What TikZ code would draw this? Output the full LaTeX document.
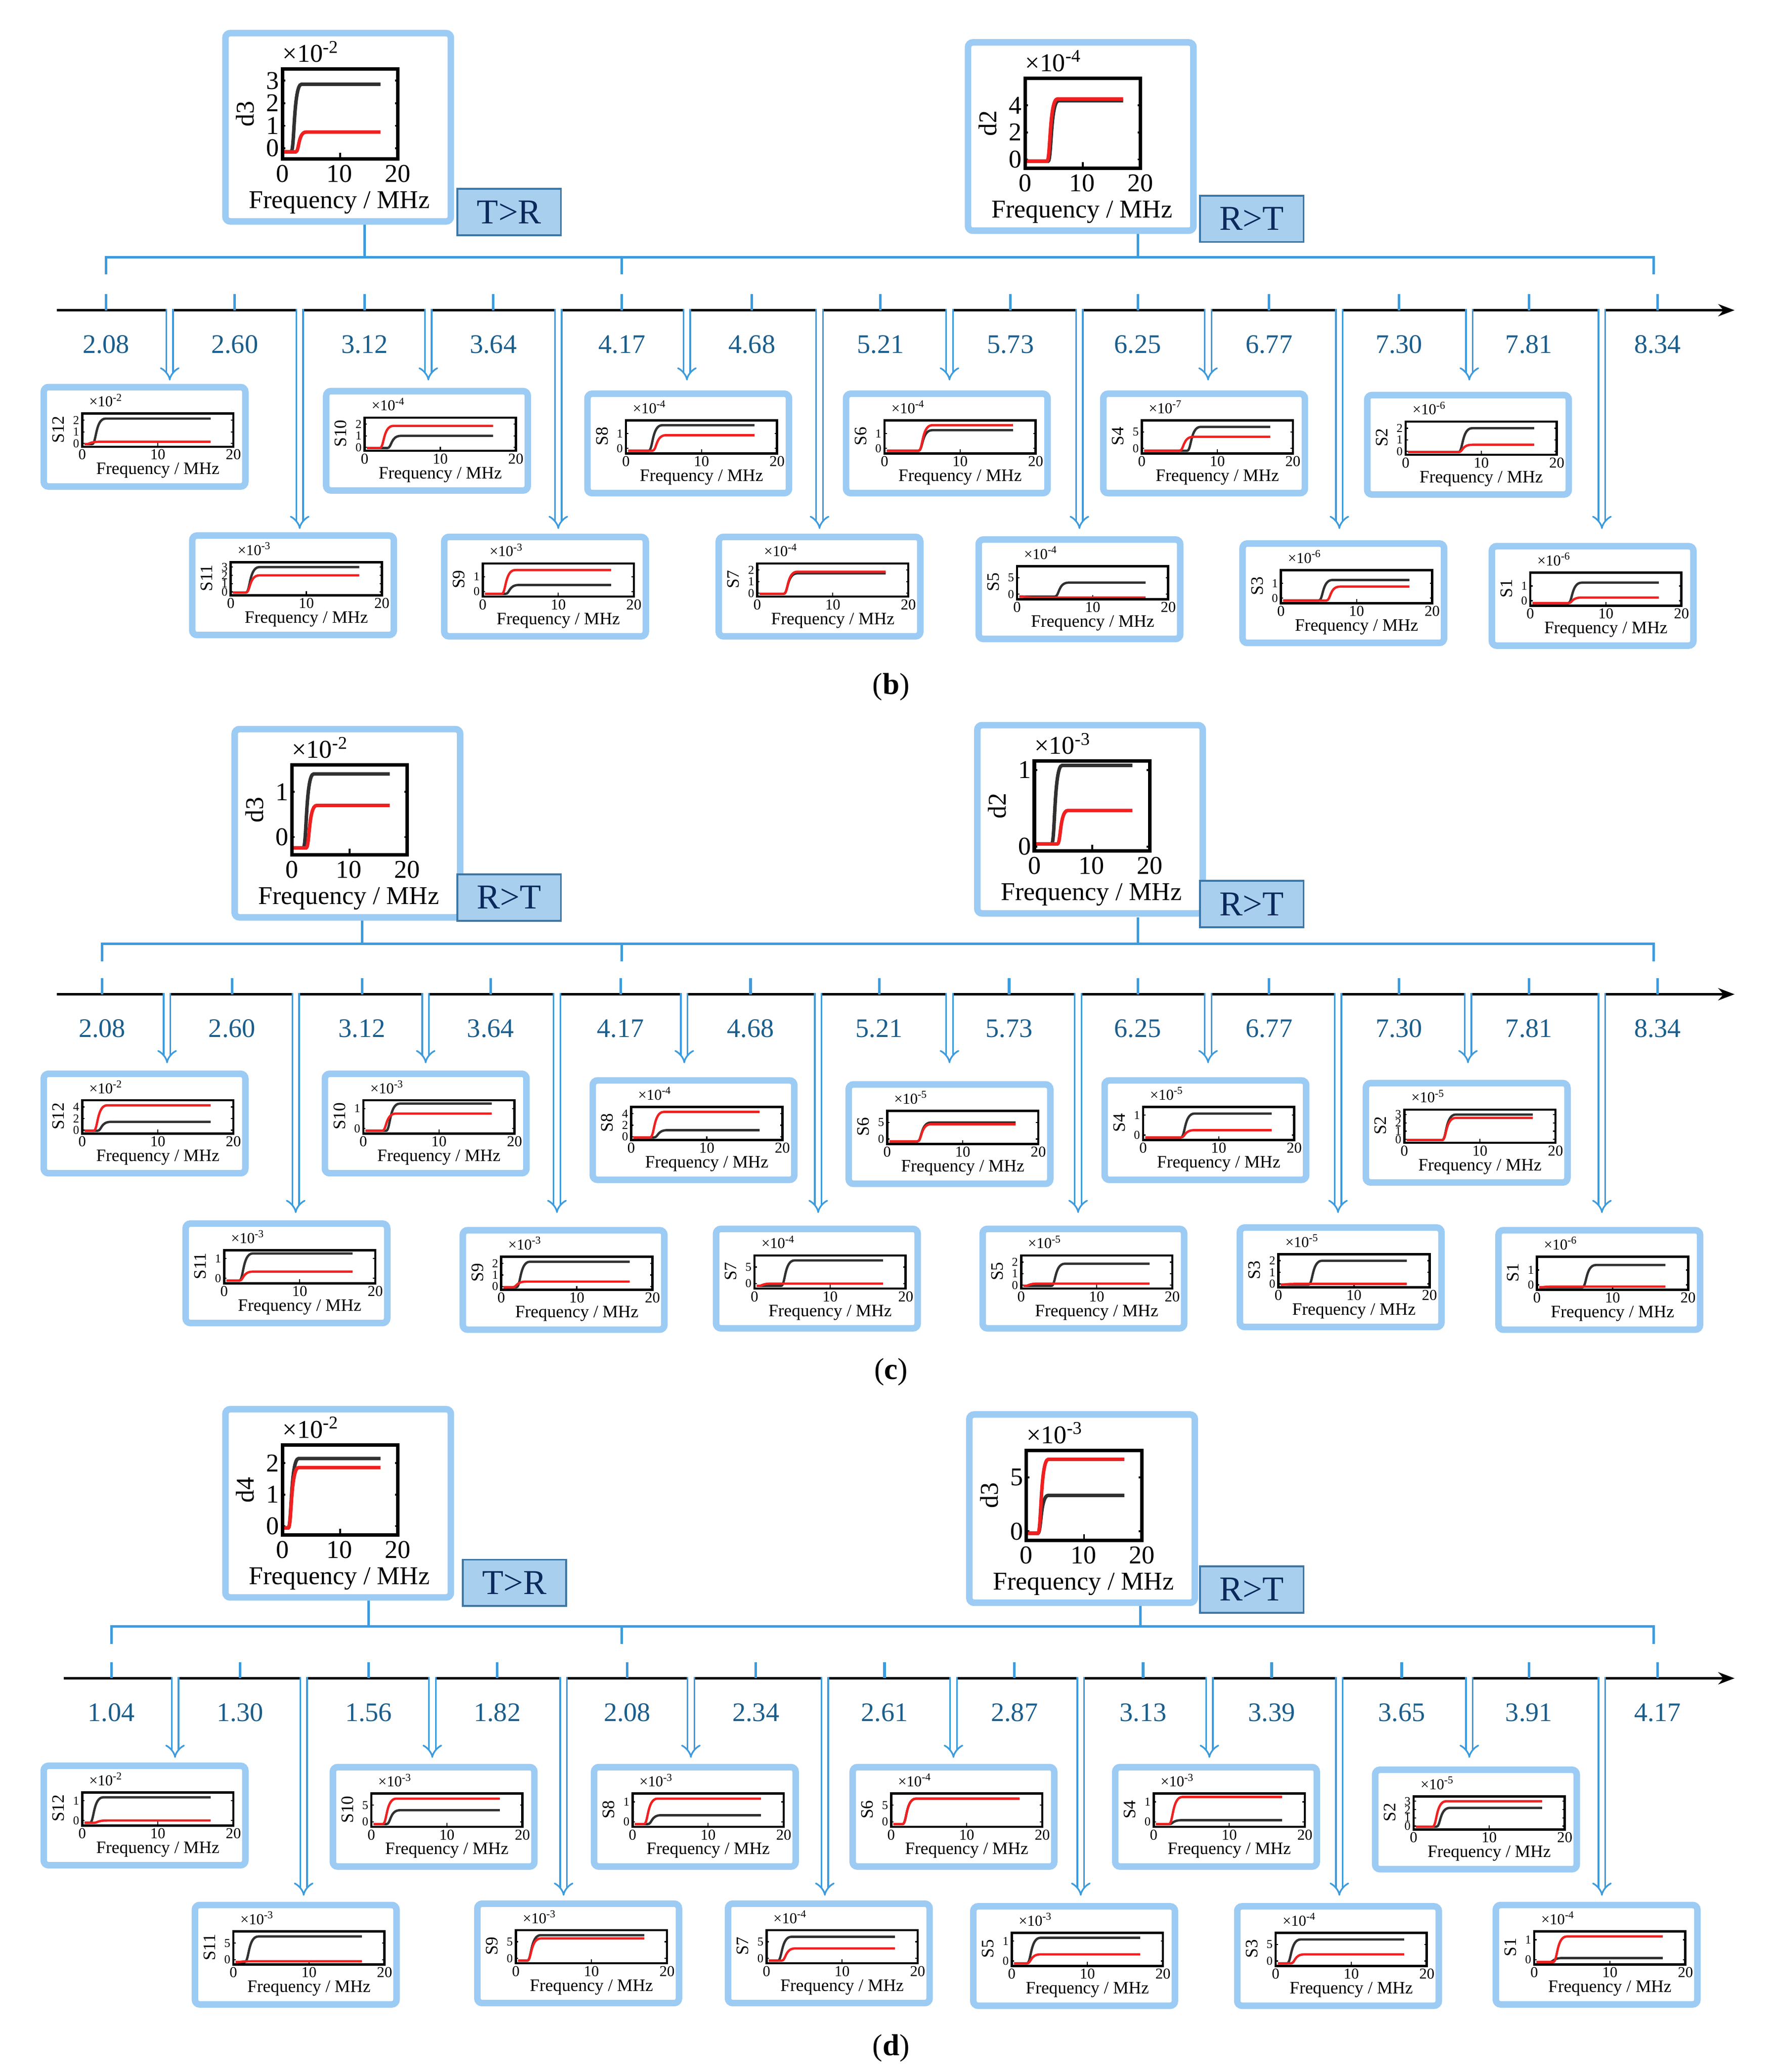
\documentclass[tikz,border=0pt]{standalone}
\usepackage{fontspec}
\setmainfont{Liberation Serif}
\usetikzlibrary{arrows.meta}
\definecolor{glowc}{HTML}{9CCBF4}
\definecolor{linec}{HTML}{3D9BDD}
\definecolor{labc}{HTML}{1B5E8C}
\definecolor{tagf}{HTML}{A9CFEE}
\definecolor{tagd}{HTML}{3C77A6}
\definecolor{tagt}{HTML}{0B2A5C}
\definecolor{redc}{HTML}{F02020}
\definecolor{blkc}{HTML}{303030}
\tikzset{
 glow/.style={draw=glowc,line width=2.8,rounded corners=2, fill=white},
 sm/.style={font=\fontsize{6.5}{7}\selectfont,inner sep=0.5pt},
 yt/.style={font=\fontsize{5.2}{5.5}\selectfont,inner sep=0.3pt},
 smf/.style={font=\fontsize{7.5}{8}\selectfont,inner sep=0.5pt},
 bg/.style={font=\fontsize{11}{12}\selectfont,inner sep=0.5pt},
 tag/.style={draw=tagd,fill=tagf,text=tagt,line width=0.8pt,minimum width=78*0.02cm,minimum height=35*0.02cm,font=\fontsize{15}{16}\selectfont,inner sep=0pt},
 tl/.style={text=labc,font=\fontsize{11.5}{12}\selectfont},
 brk/.style={draw=linec,line width=1.1pt},
 darr/.style={draw=linec,double=white,double distance=2.2pt,line width=0.7pt,-{Implies}},
 pan/.style={font=\fontsize{13}{14}\selectfont},
}
\newcommand{\crv}[4]{\draw[#1,line width=#4] (0.3,0.08) -- (#2,0.08) .. controls ({#2+0.6},0.08) and ({#2+0.4},#3) .. ({#2+1.8},#3) -- (17,#3);}
\newcommand{\sinset}[9]{%
\begin{scope}[shift={(#1,#2)}]
\draw[glow] (0,0) rectangle (152,75);
\node[smf,rotate=90] at (11,32) {#3};
\node[sm,anchor=west] at (33,10) {×10\textsuperscript{#4}};
\node[sm] at (29,51) {0};\node[sm] at (86,51) {10};\node[sm] at (143,51) {20};
\node[smf] at (86,63) {Frequency / MHz};
\begin{scope}[shift={(29,45)},x=0.114cm,y=0.5cm]
\foreach \v/\f in {#5} {\node[yt,anchor=east] at (-0.25,\f) {\v}; \draw[line width=0.5pt] (0,\f)--(0.3,\f) (20,\f)--(19.7,\f);}
\draw[line width=0.5pt] (10,0)--(10,0.12);
\crv{blkc}{#6}{#7}{1pt}
\crv{redc}{#8}{#9}{1pt}
\draw[line width=1pt] (0,0) rectangle (20,1);
\end{scope}
\end{scope}}
\newcommand{\binset}[9]{%
\begin{scope}[shift={(#1,#2)}]
\draw[glow] (0,0) rectangle (170,142);
\node[bg,rotate=90] at (15,61) {#3};
\node[bg,anchor=west] at (42,14) {×10\textsuperscript{#4}};
\node[bg] at (43,106) {0};\node[bg] at (86,106) {10};\node[bg] at (130,106) {20};
\node[bg] at (86,128) {Frequency / MHz};
\begin{scope}[shift={(43,95)},x=0.087cm,y=1.36cm]
\foreach \v/\f in {#5} {\node[bg,anchor=east] at (-0.3,\f) {\v}; \draw[line width=0.8pt] (0,\f)--(0.5,\f) (20,\f)--(19.5,\f);}
\draw[line width=0.8pt] (10,0)--(10,0.07);
\crv{blkc}{#6}{#7}{1.5pt}
\crv{redc}{#8}{#9}{1.5pt}
\draw[line width=1.5pt] (0,0) rectangle (20,1);
\end{scope}
\end{scope}}
\newcommand{\axispanel}[5]{%
\draw[brk] (#3,{#1+13}) -- (#3,#1) -- (1247,#1) -- (1247,{#1+13});
\draw[brk] (469,#1)--(469,{#1+13});
\draw[line width=1pt,-{Stealth[length=7pt]}] (#4,#2) -- (1308,#2);
\foreach \x/\l in {#5} {\draw[brk] (\x,{#2-12})--(\x,#2); \node[tl] at (\x,{#2+26}) {\l};}
}
\begin{document}
\begin{tikzpicture}[x=0.02cm,y=-0.02cm]
\useasboundingbox (0,0) rectangle (1340,1563);
% ===== panel (b)
\axispanel{194}{234}{80}{43}{80/2.08,177/2.60,275/3.12,372/3.64,469/4.17,567/4.68,664/5.21,762/5.73,858/6.25,957/6.77,1055/7.30,1153/7.81,1250/8.34}
\draw[brk] (275,194)--(275,168); \draw[brk] (858,194)--(858,173);
\foreach \x in {128,323,518,716,911,1108} \draw[darr] (\x,233)--(\x,287);
\foreach \x in {226,421,618,814,1010,1208} \draw[darr] (\x,233)--(\x,399);
\binset{170}{25}{d3}{-2}{0/.12,1/.37,2/.62,3/.87}{1.5}{.83}{2.3}{.3}
\node[tag] (tb1) at (384,160) {T>R};
\binset{730}{32}{d2}{-4}{0/.1,2/.4,4/.7}{4}{.75}{3.8}{.77}
\node[tag] (tb2) at (944,165) {R>T};
\sinset{33}{292}{S12}{-2}{0/.1,1/.45,2/.8}{1.3}{.85}{0.5}{.15}
\sinset{246}{295}{S10}{-4}{0/.1,1/.45,2/.8}{3}{.45}{2}{.75}
\sinset{443}{297}{S8}{-4}{0/.15,1/.6}{3}{.85}{3.5}{.55}
\sinset{638}{297}{S6}{-4}{0/.15,1/.6}{4.5}{.7}{4.5}{.85}
\sinset{832}{297}{S4}{-7}{0/.15,5/.65}{6}{.8}{5}{.5}
\sinset{1031}{298}{S2}{-6}{0/.1,1/.45,2/.8}{7}{.8}{7}{.3}
\sinset{145}{404}{S11}{-3}{0/.1,1/.35,2/.6,3/.85}{2}{.85}{2}{.6}
\sinset{335}{405}{S9}{-3}{0/.15,1/.6}{3}{.35}{2.5}{.8}
\sinset{542}{405}{S7}{-4}{0/.1,1/.45,2/.8}{3.5}{.7}{3.5}{.75}
\sinset{738}{407}{S5}{-4}{0/.15,5/.65}{5}{.5}{0.5}{.05}
\sinset{937}{410}{S3}{-6}{0/.15,1/.6}{5}{.7}{6}{.5}
\sinset{1125}{412}{S1}{-6}{0/.15,1/.6}{5}{.7}{5}{.25}
\node[pan] (pb) at (672,518) {(\textbf{b})};
% ===== panel (c)
\axispanel{712}{750}{77}{43}{77/2.08,175/2.60,273/3.12,370/3.64,468/4.17,566/4.68,663/5.21,761/5.73,858/6.25,957/6.77,1055/7.30,1153/7.81,1250/8.34}
\draw[brk] (273,712)--(273,690); \draw[brk] (858,712)--(858,692);
\foreach \x in {126,321,516,716,911,1107} \draw[darr] (\x,749)--(\x,802);
\foreach \x in {223,420,617,813,1009,1208} \draw[darr] (\x,749)--(\x,915);
\binset{177}{550}{d3}{-2}{0/.2,1/.7}{2}{.9}{2.5}{.55}
\node[tag] (tc1) at (384,677) {R>T};
\binset{737}{547}{d2}{-3}{0/.05,1/.9}{3}{.95}{4}{.45}
\node[tag] (tc2) at (944,682) {R>T};
\sinset{33}{810}{S12}{-2}{0/.1,2/.45,4/.8}{2}{.35}{1.5}{.85}
\sinset{245}{810}{S10}{-3}{0/.15,1/.75}{3}{.9}{2.5}{.6}
\sinset{447}{815}{S8}{-4}{0/.1,2/.45,4/.8}{3}{.3}{2.5}{.85}
\sinset{640}{818}{S6}{-5}{0/.15,5/.65}{4}{.65}{4}{.6}
\sinset{833}{815}{S4}{-5}{0/.15,1/.75}{5}{.8}{5}{.3}
\sinset{1030}{817}{S2}{-5}{0/.1,1/.35,2/.6,3/.85}{5}{.85}{5}{.75}
\sinset{140}{923}{S11}{-3}{0/.15,1/.75}{2}{.9}{2}{.35}
\sinset{349}{928}{S9}{-3}{0/.1,1/.45,2/.8}{2}{.85}{1.5}{.25}
\sinset{540}{927}{S7}{-4}{0/.15,5/.65}{3.5}{.85}{0.5}{.15}
\sinset{741}{927}{S5}{-5}{0/.1,1/.45,2/.8}{4}{.75}{0.5}{.15}
\sinset{935}{926}{S3}{-5}{0/.1,1/.45,2/.8}{4}{.8}{0.5}{.1}
\sinset{1130}{928}{S1}{-6}{0/.15,1/.6}{6}{.75}{0.5}{.1}
\node[pan] (pc) at (672,1035) {(\textbf{c})};
% ===== panel (d)
\axispanel{1227}{1266}{84}{48}{84/1.04,181/1.30,278/1.56,375/1.82,473/2.08,570/2.34,667/2.61,765/2.87,862/3.13,959/3.39,1057/3.65,1153/3.91,1250/4.17}
\draw[brk] (278,1227)--(278,1200); \draw[brk] (860,1227)--(860,1204);
\foreach \x in {132,326,521,719,912,1108} \draw[darr] (\x,1265)--(\x,1326);
\foreach \x in {229,425,622,815,1010,1208} \draw[darr] (\x,1265)--(\x,1430);
\binset{170}{1063}{d4}{-2}{0/.1,1/.45,2/.8}{1}{.85}{1}{.75}
\node[tag] (td1) at (388,1194) {T>R};
\binset{731}{1067}{d3}{-3}{0/.1,5/.7}{2}{.5}{2}{.9}
\node[tag] (td2) at (944,1199) {R>T};
\sinset{33}{1332}{S12}{-2}{0/.15,1/.75}{1}{.85}{1.5}{.15}
\sinset{251}{1333}{S10}{-3}{0/.15,5/.65}{2}{.5}{1.5}{.85}
\sinset{448}{1333}{S8}{-3}{0/.15,1/.75}{2}{.35}{1.5}{.85}
\sinset{643}{1333}{S6}{-4}{0/.15,5/.65}{1.5}{.85}{1.5}{.85}
\sinset{841}{1333}{S4}{-3}{0/.15,1/.75}{2}{.2}{2}{.9}
\sinset{1037}{1335}{S2}{-5}{0/.1,1/.35,2/.6,3/.85}{3}{.65}{2.5}{.85}
\sinset{147}{1437}{S11}{-3}{0/.15,5/.65}{1.5}{.85}{0.5}{.1}
\sinset{360}{1436}{S9}{-3}{0/.15,5/.65}{1.5}{.85}{1.5}{.75}
\sinset{549}{1436}{S7}{-4}{0/.15,5/.65}{1.5}{.8}{2}{.45}
\sinset{734}{1438}{S5}{-3}{0/.15,1/.75}{2}{.85}{2}{.35}
\sinset{933}{1438}{S3}{-4}{0/.15,5/.65}{1.5}{.8}{2}{.35}
\sinset{1128}{1437}{S1}{-4}{0/.15,1/.75}{2}{.2}{2.5}{.85}
\node[pan] (pd) at (672,1545) {(\textbf{d})};
\end{tikzpicture}
\end{document}
